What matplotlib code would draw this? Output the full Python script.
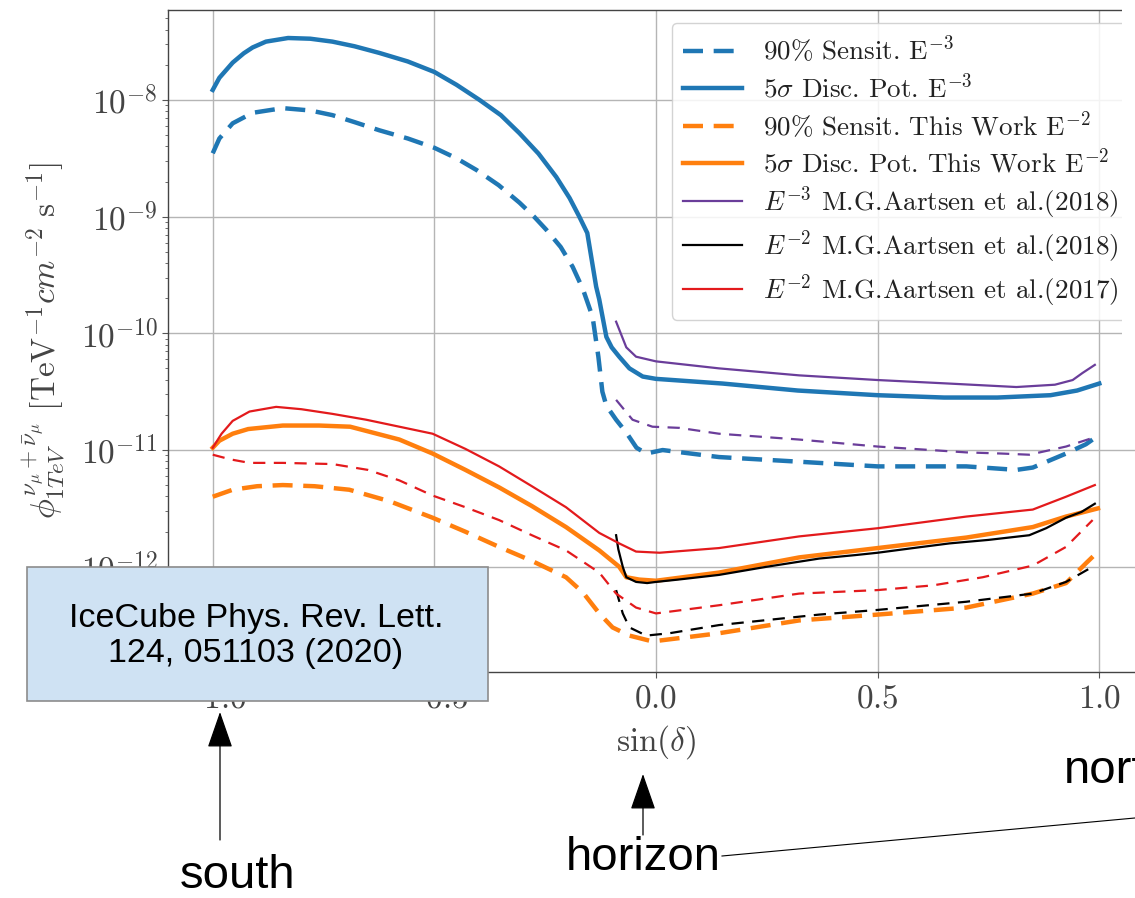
import numpy as np
import matplotlib
matplotlib.use("Agg")
import matplotlib.pyplot as plt
from matplotlib.patches import Rectangle, FancyArrowPatch
from matplotlib.lines import Line2D
from matplotlib.ticker import LogLocator, FuncFormatter, NullFormatter

plt.rcParams["mathtext.fontset"] = "cm"
plt.rcParams["font.family"] = ["DejaVu Serif"]

# ---------------------------------------------------------------- data
# flux values are stored as log10(phi) and converted below

# 5 sigma discovery potential, E^-3
x_dp_e3 = [-1.0, -0.985, -0.955, -0.93, -0.91, -0.88, -0.83, -0.78, -0.73, -0.68, -0.624,
           -0.56, -0.50, -0.45, -0.398, -0.35, -0.308, -0.265, -0.225, -0.195, -0.173,
           -0.155, -0.135, -0.128, -0.112, -0.10, -0.083, -0.06, -0.03, 0.0,
           0.15, 0.32, 0.5, 0.65, 0.77, 0.89, 0.95, 1.0]
lg_dp_e3 = [-7.914, -7.81, -7.68, -7.60, -7.55, -7.50, -7.469, -7.475, -7.50, -7.54, -7.597,
            -7.67, -7.76, -7.87, -8.00, -8.13, -8.285, -8.46, -8.66, -8.84, -9.00,
            -9.14, -9.60, -9.71, -10.03, -10.12, -10.20, -10.30, -10.37, -10.39,
            -10.43, -10.49, -10.53, -10.55, -10.55, -10.53, -10.49, -10.43]

# 90% sensitivity, E^-3
x_sens_e3 = [-1.0, -0.985, -0.955, -0.91, -0.842, -0.78, -0.73, -0.68, -0.624, -0.56, -0.50,
             -0.45, -0.405, -0.355, -0.308, -0.275, -0.248, -0.215, -0.188, -0.165, -0.143,
             -0.13, -0.121, -0.112, -0.09, -0.067, -0.044, -0.022, 0.015, 0.142, 0.323,
             0.5, 0.7, 0.813, 0.85, 0.925, 0.97, 1.0]
lg_sens_e3 = [-8.457, -8.33, -8.20, -8.11, -8.07, -8.09, -8.13, -8.19, -8.26, -8.33, -8.41,
              -8.50, -8.60, -8.73, -8.88, -9.00, -9.11, -9.26, -9.43, -9.62, -9.86,
              -10.20, -10.50, -10.62, -10.74, -10.85, -10.98, -11.03, -11.00, -11.06, -11.10,
              -11.14, -11.14, -11.17, -11.15, -11.03, -10.95, -10.87]

# 5 sigma discovery potential, E^-2 (this work)
x_dp_e2 = [-1.0, -0.985, -0.955, -0.92, -0.842, -0.76, -0.69, -0.579, -0.504, -0.43, -0.354,
           -0.28, -0.203, -0.128, -0.083, -0.067, -0.038, 0.0, 0.142, 0.323, 0.5, 0.7,
           0.85, 0.925, 0.997]
lg_dp_e2 = [-10.98, -10.92, -10.86, -10.82, -10.79, -10.79, -10.80, -10.91, -11.03, -11.17,
            -11.32, -11.48, -11.66, -11.86, -12.00, -12.09, -12.11, -12.12, -12.05, -11.92,
            -11.84, -11.75, -11.66, -11.57, -11.50]

# 90% sensitivity, E^-2 (this work)
x_sens_e2 = [-1.0, -0.955, -0.90, -0.842, -0.77, -0.692, -0.60, -0.504, -0.43, -0.354, -0.28,
             -0.203, -0.165, -0.128, -0.098, -0.06, -0.008, 0.142, 0.323, 0.5, 0.7, 0.85,
             0.925, 0.97, 1.0]
lg_sens_e2 = [-11.40, -11.34, -11.31, -11.30, -11.31, -11.34, -11.44, -11.58, -11.70, -11.83,
              -11.95, -12.09, -12.22, -12.40, -12.52, -12.59, -12.64, -12.57, -12.46, -12.41,
              -12.35, -12.23, -12.14, -11.97, -11.86]

# E^-3, Aartsen et al. (2018): discovery potential and sensitivity
x_e3_2018 = [-0.09, -0.067, -0.045, 0.0, 0.142, 0.323, 0.5, 0.66, 0.813, 0.90, 0.94, 0.962, 0.99]
lg_e3_2018 = [-9.90, -10.12, -10.20, -10.24, -10.30, -10.36, -10.40, -10.43, -10.46, -10.44,
              -10.40, -10.34, -10.27]
x_e3_2018_s = [-0.09, -0.053, -0.008, 0.053, 0.142, 0.323, 0.5, 0.7, 0.78, 0.842, 0.925, 0.99]
lg_e3_2018_s = [-10.57, -10.74, -10.80, -10.81, -10.86, -10.91, -10.97, -11.02, -11.03, -11.04,
                -10.97, -10.89]

# E^-2, Aartsen et al. (2018): discovery potential and sensitivity
x_e2_2018 = [-0.09, -0.085, -0.075, -0.067, -0.045, -0.02, 0.0, 0.05, 0.142, 0.25, 0.368,
             0.45, 0.5, 0.58, 0.662, 0.75, 0.842, 0.88, 0.925, 0.96, 0.99]
lg_e2_2018 = [-11.73, -11.85, -12.00, -12.09, -12.13, -12.14, -12.13, -12.11, -12.07, -12.00,
              -11.93, -11.90, -11.88, -11.84, -11.80, -11.77, -11.73, -11.67, -11.58, -11.53, -11.46]
x_e2_2018_s = [-0.09, -0.075, -0.06, -0.022, 0.03, 0.142, 0.368, 0.5, 0.7, 0.85, 0.925, 0.985]
lg_e2_2018_s = [-12.20, -12.40, -12.52, -12.59, -12.57, -12.50, -12.41, -12.37, -12.30, -12.23,
                -12.13, -12.00]

# E^-2, Aartsen et al. (2017): discovery potential and sensitivity
x_e2_2017 = [-1.0, -0.98, -0.955, -0.917, -0.857, -0.80, -0.73, -0.654, -0.579, -0.504,
             -0.43, -0.354, -0.28, -0.203, -0.128, -0.083, -0.045, 0.008, 0.142, 0.323,
             0.5, 0.7, 0.85, 0.925, 0.99]
lg_e2_2017 = [-10.98, -10.86, -10.75, -10.67, -10.63, -10.65, -10.69, -10.74, -10.80, -10.86,
              -10.99, -11.14, -11.31, -11.49, -11.71, -11.80, -11.87, -11.88, -11.84, -11.74,
              -11.67, -11.57, -11.51, -11.40, -11.30]
x_e2_2017_s = [-1.0, -0.96, -0.917, -0.842, -0.73, -0.65, -0.579, -0.504, -0.43, -0.354,
               -0.28, -0.203, -0.128, -0.09, -0.045, 0.0, 0.142, 0.323, 0.5, 0.624, 0.737,
               0.85, 0.925, 0.985]
lg_e2_2017_s = [-11.04, -11.08, -11.11, -11.11, -11.12, -11.17, -11.26, -11.39, -11.49, -11.60,
                -11.73, -11.86, -12.05, -12.23, -12.35, -12.40, -12.33, -12.23, -12.20, -12.16,
                -12.09, -11.99, -11.83, -11.60]

x_ticks = [-1.0, -0.5, 0.0, 0.5, 1.0]

labels = [
    r"90% Sensit. E$^{-3}$",
    r"5$\sigma$ Disc. Pot. E$^{-3}$",
    r"90% Sensit. This Work E$^{-2}$",
    r"5$\sigma$ Disc. Pot. This Work E$^{-2}$",
    r"$E^{-3}$ M.G.Aartsen et al.(2018)",
    r"$E^{-2}$ M.G.Aartsen et al.(2018)",
    r"$E^{-2}$ M.G.Aartsen et al.(2017)",
]

BLUE, ORANGE = "#1f77b4", "#ff7f0e"
PURPLE, RED, BLACK = "#6a3d9a", "#e31a1c", "#000000"

# ---------------------------------------------------------------- figure
W, H = 1135, 898
fig = plt.figure(figsize=(W / 100, H / 100), dpi=100)


def fx(px):
    return px / W


def fy(py):
    return 1 - py / H


left_px, right_px, top_px, bottom_px = 168.4, 1143.6, 10, 672
ax = fig.add_axes([fx(left_px), fy(bottom_px), (right_px - left_px) / W,
                   (bottom_px - top_px) / H])
ax.set_yscale("log")


def flux(lg):
    return 10.0 ** np.asarray(lg)


thick, thin = 3.2, 1.6
big_dash, small_dash = (4.5, 2.4), (5.5, 3.8)

h_sens_e3, = ax.plot(x_sens_e3, flux(lg_sens_e3), color=BLUE, lw=thick, dashes=big_dash)
h_dp_e3, = ax.plot(x_dp_e3, flux(lg_dp_e3), color=BLUE, lw=thick)
h_sens_e2, = ax.plot(x_sens_e2, flux(lg_sens_e2), color=ORANGE, lw=thick, dashes=big_dash)
h_dp_e2, = ax.plot(x_dp_e2, flux(lg_dp_e2), color=ORANGE, lw=thick)
h_e3_18, = ax.plot(x_e3_2018, flux(lg_e3_2018), color=PURPLE, lw=thin)
ax.plot(x_e3_2018_s, flux(lg_e3_2018_s), color=PURPLE, lw=thin, dashes=small_dash)
h_e2_18, = ax.plot(x_e2_2018, flux(lg_e2_2018), color=BLACK, lw=thin)
ax.plot(x_e2_2018_s, flux(lg_e2_2018_s), color=BLACK, lw=thin, dashes=small_dash)
h_e2_17, = ax.plot(x_e2_2017, flux(lg_e2_2017), color=RED, lw=thin)
ax.plot(x_e2_2017_s, flux(lg_e2_2017_s), color=RED, lw=thin, dashes=small_dash)

ax.set_xlim(-1.1, 1.1)
ax.set_ylim(10 ** -12.902, 10 ** -7.229)

ax.set_xticks(x_ticks)
ax.xaxis.set_major_formatter(FuncFormatter(lambda v, p: rf"${v:.1f}$"))
ax.yaxis.set_major_locator(LogLocator(base=10, numticks=20))
ax.yaxis.set_minor_locator(LogLocator(base=10, subs=np.arange(2, 10), numticks=20))
ax.yaxis.set_major_formatter(
    FuncFormatter(lambda v, p: rf"$10^{{{int(round(np.log10(v)))}}}$"))
ax.yaxis.set_minor_formatter(NullFormatter())

TXT = "#444444"
ax.tick_params(axis="both", which="major", labelsize=24, labelcolor=TXT,
               color="#555555", length=4, width=0.8)
ax.tick_params(axis="y", which="minor", color="#555555", length=2.5, width=0.6)
ax.grid(True, which="major", color="#b5b5b5", lw=1.0)
for s in ax.spines.values():
    s.set_color("#444444")
    s.set_linewidth(1.0)

ax.set_xlabel(r"$\sin(\delta)$", fontsize=24, color=TXT, labelpad=6)
ax.set_ylabel(r"$\phi^{\nu_\mu+\bar{\nu}_\mu}_{1TeV}\ [\mathrm{TeV}^{-1}cm^{-2}\ \mathrm{s}^{-1}]$",
              fontsize=24, color=TXT, labelpad=10)

leg = ax.legend([h_sens_e3, h_dp_e3, h_sens_e2, h_dp_e2, h_e3_18, h_e2_18, h_e2_17],
                labels, loc="upper left", bbox_to_anchor=(fx(672), fy(23)),
                bbox_transform=fig.transFigure, borderaxespad=0,
                prop={"family": ["cmr10", "DejaVu Serif"], "size": 19.5},
                handlelength=2.2, handletextpad=0.75, labelspacing=0.26,
                framealpha=0.85, edgecolor="#cccccc", fancybox=True)
for t in leg.get_texts():
    t.set_color("#222222")

# blank strip along the upper right edge
fig.add_artist(Rectangle((fx(1122), fy(440)), 0.05, 440 / H, transform=fig.transFigure,
                         facecolor="white", edgecolor="none", zorder=5))

# reference box
fig.add_artist(Rectangle((fx(27), fy(701)), (488 - 27) / W, (701 - 567) / H,
                         transform=fig.transFigure, facecolor="#cfe2f3",
                         edgecolor="#8c8c8c", lw=1.2, zorder=10))
fig.text(fx(256), fy(636), "IceCube Phys. Rev. Lett.\n124, 051103 (2020)",
         ha="center", va="center", fontsize=24.5, family="Liberation Sans",
         color="black", zorder=11, linespacing=1.15)

# direction markers
arrow_kw = dict(transform=fig.transFigure, arrowstyle="-|>,head_length=1.15,head_width=0.4",
                mutation_scale=20, color="black", lw=0.9, shrinkA=0, shrinkB=0, zorder=11)
fig.add_artist(FancyArrowPatch((fx(220), fy(840)), (fx(220), fy(712)), **arrow_kw))
fig.add_artist(FancyArrowPatch((fx(643), fy(835)), (fx(643), fy(774)), **arrow_kw))

sans = dict(fontsize=34, family="Liberation Sans", color="black", zorder=11)
fig.text(fx(238), fy(876), "south", ha="center", va="center", **sans)
fig.text(fx(643), fy(858), "horizon", ha="center", va="center", **sans)
fig.text(fx(1064), fy(771), "north", ha="left", va="center", **sans)
fig.add_artist(Line2D([fx(722), fx(1200)], [fy(856), fy(812)], transform=fig.transFigure,
                      color="black", lw=0.8, zorder=11))

fig.savefig("out.png", dpi=100)
